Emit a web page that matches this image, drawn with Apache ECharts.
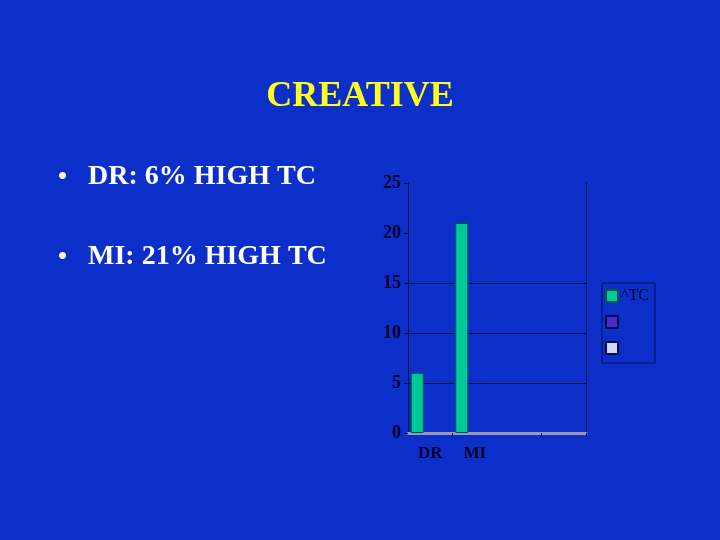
<!DOCTYPE html>
<html>
<head>
<meta charset="utf-8">
<script src="https://cdn.jsdelivr.net/npm/echarts@6/dist/echarts.min.js"></script>
<style>
  html, body { margin: 0; padding: 0; background: #0b2fc8; }
  #main { width: 720px; height: 540px; }
</style>
</head>
<body>
<div id="main"></div>
<script>
// data
var categories = ['DR', 'MI', '', ''];
var tcValues = [6, 21, null, null];
var seriesNames = ['^TC', ' ', '  '];
var seriesColors = ['#00c896', '#4a2cc8', '#d4d4f4'];
var yTicks = [0, 5, 10, 15, 20, 25];
var bullets = ['DR: 6% HIGH TC', 'MI: 21% HIGH TC'];

var myChart = echarts.init(document.getElementById('main'));
var serif = '"Liberation Serif", "DejaVu Serif", serif';

var option = {
    backgroundColor: '#0b2fc8',
    textStyle: { fontFamily: serif },
    title: {
        text: 'CREATIVE',
        left: 'center',
        top: 74,
        textStyle: { color: '#ffff1e', fontSize: 36, fontWeight: 'bold', fontFamily: serif },
    },
    graphic: bullets.map(function (t, i) {
        return {
            type: 'group',
            left: 58,
            top: 163 + i * 80,
            children: [
                { type: 'text', x: 0, y: 1, style: { text: '•', fill: '#ffffff', font: 'bold 26px ' + serif } },
                { type: 'text', x: 30, y: 0, style: { text: t, fill: '#ffffff', font: 'bold 28px ' + serif } },
            ],
        };
    }),
    legend: {
        orient: 'vertical',
        left: 602,
        top: 283,
        width: 50,
        padding: [5, 6, 7, 3],
        itemWidth: 12,
        itemHeight: 12,
        itemGap: 10,
        borderColor: '#00105a',
        borderWidth: 1,
        icon: 'rect',
        textStyle: { color: '#00002a', fontSize: 16, fontFamily: serif, padding: [0, 0, 0, -2] },
        data: seriesNames,
    },
    grid: { left: 408, right: 134, top: 183, bottom: 107, containLabel: false },
    xAxis: {
        type: 'category',
        data: categories,
        axisLine: { show: true, lineStyle: { color: '#9a9ab4', width: 3 } },
        axisTick: {
            show: true,
            length: 4,
            interval: function (i) { return i === 1 || i === 3; },
            lineStyle: { color: '#00104a' },
        },
        axisLabel: { color: '#00002a', fontSize: 17, fontWeight: 'bold', margin: 12, fontFamily: serif },
    },
    yAxis: [
        {
            type: 'value',
            min: yTicks[0],
            max: yTicks[yTicks.length - 1],
            interval: 5,
            axisLine: { show: true, lineStyle: { color: '#00104a', width: 1 } },
            axisTick: { show: true, length: 4, lineStyle: { color: '#00104a' } },
            axisLabel: { color: '#00002a', fontSize: 18, fontWeight: 'bold', margin: 7, fontFamily: serif },
            splitLine: {
                show: true,
                lineStyle: { color: ['transparent', '#00104a', '#00104a', '#00104a', 'transparent', 'transparent'], width: 1 },
            },
        },
        {
            type: 'value',
            min: 0,
            max: 25,
            interval: 5,
            position: 'right',
            axisLine: { show: true, lineStyle: { color: '#00104a', width: 1 } },
            axisTick: { show: false },
            axisLabel: { show: false },
            splitLine: { show: false },
        },
    ],
    series: [
        {
            name: seriesNames[0],
            type: 'bar',
            data: tcValues,
            barWidth: 13,
            barGap: 0,
            itemStyle: { color: seriesColors[0], borderColor: '#005a44', borderWidth: 1 },
        },
        {
            name: seriesNames[1],
            type: 'bar',
            data: [null, null, null, null],
            barWidth: 13,
            itemStyle: { color: seriesColors[1], borderColor: '#00104a', borderWidth: 1 },
        },
        {
            name: seriesNames[2],
            type: 'bar',
            data: [null, null, null, null],
            barWidth: 13,
            itemStyle: { color: seriesColors[2], borderColor: '#00104a', borderWidth: 1 },
        },
    ],
};

myChart.setOption(option);
window.addEventListener('resize', function () {
    myChart.resize();
});
</script>
</body>
</html>
